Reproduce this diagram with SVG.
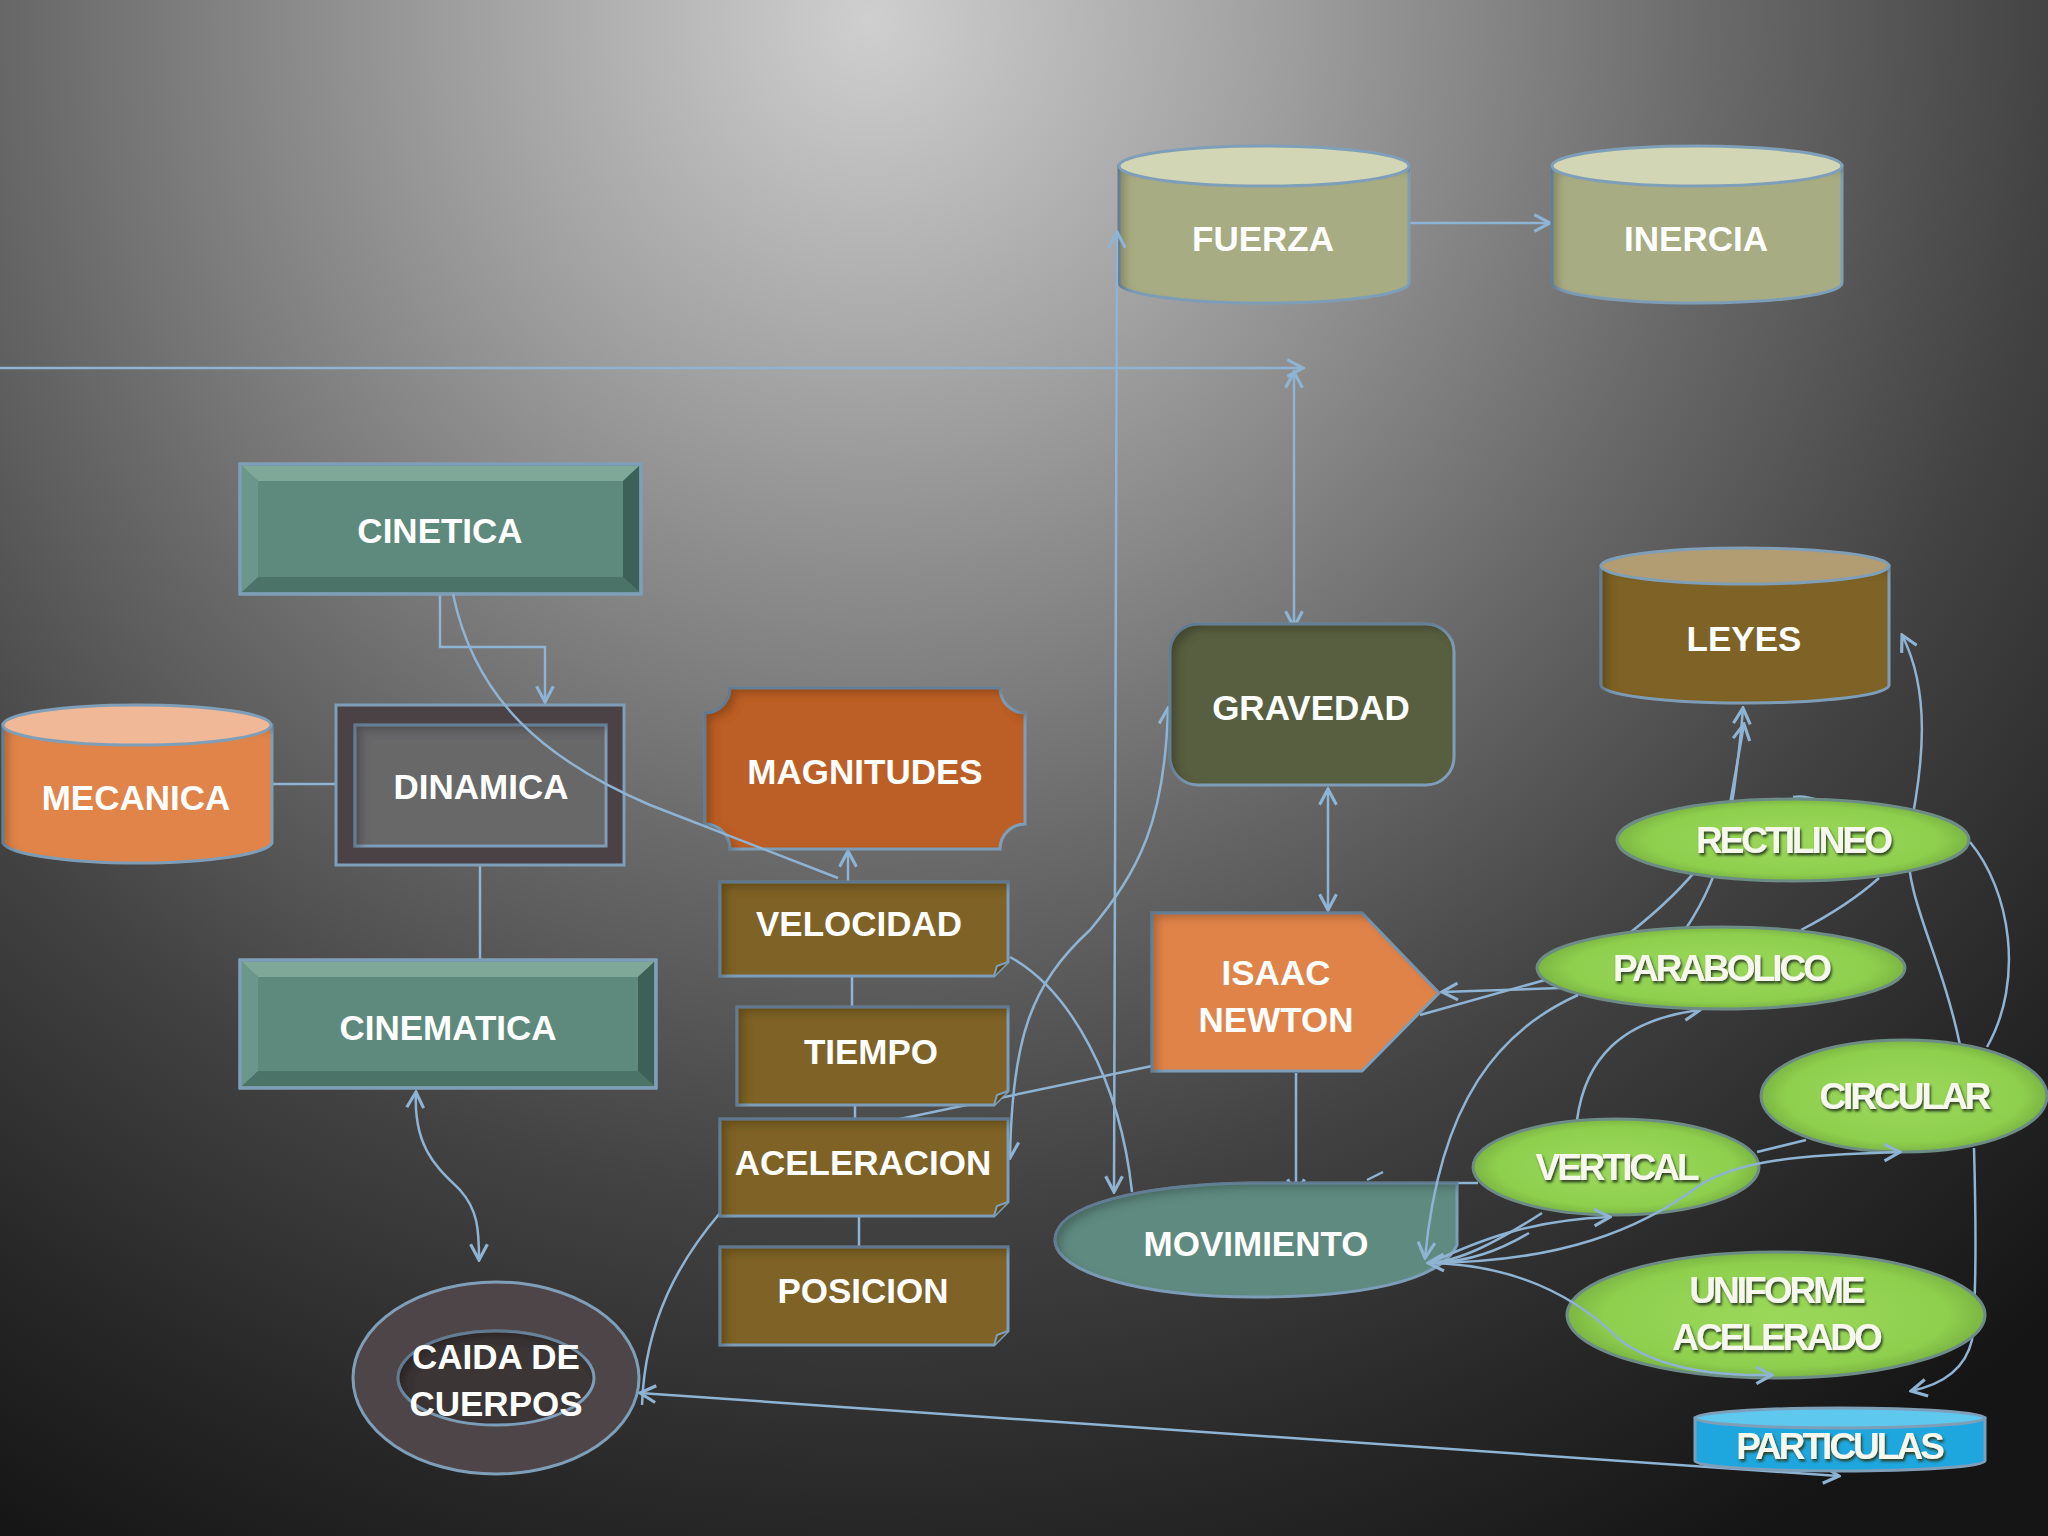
<svg xmlns="http://www.w3.org/2000/svg" width="2048" height="1536" viewBox="0 0 2048 1536">
<defs>
  <radialGradient id="bg" gradientUnits="userSpaceOnUse" cx="870" cy="20" r="1750">
    <stop offset="0" stop-color="#cfcfcf"/>
    <stop offset="0.22" stop-color="#a2a2a2"/>
    <stop offset="0.48" stop-color="#6a6a6a"/>
    <stop offset="0.68" stop-color="#424242"/>
    <stop offset="0.86" stop-color="#272727"/>
    <stop offset="1" stop-color="#151515"/>
  </radialGradient>
  <radialGradient id="green" cx="0.5" cy="0.5" r="0.55">
    <stop offset="0" stop-color="#9ad85a"/>
    <stop offset="0.75" stop-color="#8fcf4e"/>
    <stop offset="1" stop-color="#6fa83c"/>
  </radialGradient>
  <filter id="inset" x="-5%" y="-5%" width="110%" height="110%">
    <feGaussianBlur in="SourceAlpha" stdDeviation="5" result="blur"/>
    <feOffset in="blur" dx="7" dy="6" result="off"/>
    <feComposite in="SourceAlpha" in2="off" operator="arithmetic" k2="1" k3="-1" result="inner"/>
    <feFlood flood-color="#000" flood-opacity="0.45"/>
    <feComposite in2="inner" operator="in" result="shadow"/>
    <feMerge><feMergeNode in="SourceGraphic"/><feMergeNode in="shadow"/></feMerge>
  </filter>
  <filter id="tshadow" x="-10%" y="-20%" width="120%" height="150%">
    <feDropShadow dx="1.5" dy="2.5" stdDeviation="1.2" flood-color="#2a3a1a" flood-opacity="0.9"/>
  </filter>
  <marker id="arr" viewBox="0 0 20 20" refX="18" refY="10" markerWidth="21" markerHeight="21" markerUnits="userSpaceOnUse" orient="auto-start-reverse">
    <path d="M3,2 L18,10 L3,18" fill="none" stroke="#8fb3d3" stroke-width="3"/>
  </marker>
  <style>
    .lbl{font-family:"Liberation Sans",Arial,sans-serif;font-weight:bold;font-size:35px;fill:#ffffff;text-anchor:middle;dominant-baseline:central}
    .glbl{font-family:"Liberation Sans",Arial,sans-serif;font-weight:bold;font-size:37px;fill:#f6f8ee;text-anchor:middle;dominant-baseline:central;letter-spacing:-3px;filter:url(#tshadow)}
    .bd{stroke:#7f9fb9;stroke-width:3}
    .cn{fill:none;stroke:#8fb3d3;stroke-width:2.5}
    .ar{marker-end:url(#arr)}
    .ar2{marker-start:url(#arr);marker-end:url(#arr)}
    .brown{fill:#7e6226}
  </style>
</defs>
<rect width="2048" height="1536" fill="url(#bg)"/>

<g id="connectors-under">
  <path class="cn ar" d="M0,368 H1303"/>
  <path class="cn ar2" d="M1294,372 V627"/>
  <path class="cn ar" d="M1409,223 H1550"/>
  <path class="cn ar2" d="M1328,789 V910"/>
  <path class="cn ar" d="M1296,1073 V1195"/>
  <path class="cn ar" d="M440,594 V647 H545 V702"/>
  <path class="cn" d="M272,784 H336"/>
  <path class="cn" d="M480,865 V960"/>
  <path class="cn ar" d="M848,882 V851"/>
  <path class="cn" d="M852,976 V1007 M855,1105 V1119 M859,1216 V1247"/>
  <path class="cn" d="M1152,1066 L895,1120"/>
  <path class="cn" d="M1010,957 C1070,990 1120,1080 1132,1192"/>
  <path class="cn ar2" d="M1168,708 C1165,820 1140,870 1090,930 C1030,985 1012,1040 1010,1158"/>
  <path class="cn" d="M720,1213 C680,1260 645,1320 642,1405"/>
  <path class="cn ar2" d="M640,1393 L1839,1476"/>
  <path class="cn ar2" d="M416,1092 C413,1150 440,1170 460,1190 C478,1210 479,1230 479,1260"/>
  <path class="cn ar" d="M1560,988 L1442,992"/>
  <path class="cn" d="M1420,1015 L1545,980"/>
  <path class="cn ar" d="M1631,932 C1690,885 1728,840 1734,790 C1738,760 1741,735 1743,708"/>
  <path class="cn ar" d="M1685,930 C1705,900 1718,870 1724,840 C1732,790 1738,760 1744,724"/>
  <path class="cn" d="M1801,930 C1830,915 1860,895 1879,878"/>
  <path class="cn" d="M1970,842 C2010,890 2025,980 1987,1047"/>
  <path class="cn ar" d="M1960,1045 C1940,950 1905,900 1908,840 C1925,760 1930,690 1902,635"/>
  <path class="cn ar" d="M1974,1148 C1976,1220 1976,1300 1972,1340 C1965,1370 1940,1385 1911,1391"/>
  <path class="cn ar" d="M1577,1120 C1585,1060 1620,1020 1700,1010"/>
  <path class="cn" d="M1757,1152 L1806,1140"/>
  <path class="cn" d="M1457,1183 H1478"/>
  <path class="cn" d="M1793,797 Q1805,795 1820,801"/>
</g>

<g id="fuerza">
  <path d="M1119,166 V283 A145,20 0 0 0 1409,283 V166 Z" fill="#a8ac82" class="bd" filter="url(#inset)"/>
  <ellipse cx="1264" cy="166" rx="145" ry="20" fill="#d2d6b4" class="bd"/>
  <text class="lbl" x="1263" y="238">FUERZA</text>
</g>
<g id="inercia">
  <path d="M1552,166 V283 A145,20 0 0 0 1842,283 V166 Z" fill="#a8ac82" class="bd" filter="url(#inset)"/>
  <ellipse cx="1697" cy="166" rx="145" ry="20" fill="#d2d6b4" class="bd"/>
  <text class="lbl" x="1696" y="238">INERCIA</text>
</g>
<g id="leyes">
  <path d="M1601,566 V685 A144,18 0 0 0 1889,685 V566 Z" fill="#7e6226" class="bd" filter="url(#inset)"/>
  <ellipse cx="1745" cy="566" rx="144" ry="18" fill="#b29c72" class="bd"/>
  <text class="lbl" x="1744" y="638">LEYES</text>
</g>
<g id="gravedad">
  <rect x="1170" y="624" width="284" height="161" rx="28" fill="#595e40" class="bd" filter="url(#inset)"/>
  <text class="lbl" x="1311" y="707">GRAVEDAD</text>
</g>
<g id="cinetica">
  <rect x="240" y="464" width="401" height="130" fill="#5e8a7e" class="bd"/>
  <path d="M242,466 H639 L623,481 H258 Z" fill="#80a899"/>
  <path d="M242,466 L258,481 V577 L242,592 Z" fill="#6b978a"/>
  <path d="M639,466 V592 L623,577 V481 Z" fill="#3e6157"/>
  <path d="M242,592 L258,577 H623 L639,592 Z" fill="#4b7367"/>
  <rect x="240" y="464" width="401" height="130" fill="none" class="bd"/>
  <text class="lbl" x="440" y="530">CINETICA</text>
</g>
<g id="cinematica">
  <rect x="240" y="960" width="416" height="128" fill="#5e8a7e" class="bd"/>
  <path d="M242,962 H654 L638,977 H258 Z" fill="#80a899"/>
  <path d="M242,962 L258,977 V1071 L242,1086 Z" fill="#6b978a"/>
  <path d="M654,962 V1086 L638,1071 V977 Z" fill="#3e6157"/>
  <path d="M242,1086 L258,1071 H638 L654,1086 Z" fill="#4b7367"/>
  <rect x="240" y="960" width="416" height="128" fill="none" class="bd"/>
  <text class="lbl" x="448" y="1027">CINEMATICA</text>
</g>
<g id="mecanica">
  <path d="M3,725 V843 A135,22 0 0 0 272,843 V725 Z" fill="#e0844a" class="bd" filter="url(#inset)"/>
  <ellipse cx="137" cy="725" rx="134" ry="20" fill="#f0b896" class="bd"/>
  <text class="lbl" x="136" y="797">MECANICA</text>
</g>
<g id="dinamica">
  <rect x="336" y="705" width="288" height="160" fill="#4a4245" class="bd"/>
  <rect x="355" y="725" width="251" height="121" fill="#676769" class="bd" filter="url(#inset)"/>
  <text class="lbl" x="481" y="786">DINAMICA</text>
</g>
<g id="magnitudes">
  <path d="M730,688 H1000 A25,25 0 0 0 1025,713 V824 A25,25 0 0 0 1000,849 H730 A25,25 0 0 0 705,824 V713 A25,25 0 0 0 730,688 Z" fill="#bc5e26" class="bd" filter="url(#inset)"/>
  <text class="lbl" x="865" y="771">MAGNITUDES</text>
</g>
<g id="velocidad">
  <path d="M720,882 H1008 V962 L994,976 H720 Z" class="brown bd" filter="url(#inset)"/>
  <path d="M994,976 L997,966 L1008,962" fill="#5d4818" stroke="#7f9fb9" stroke-width="2"/>
  <text class="lbl" x="859" y="923">VELOCIDAD</text>
</g>
<g id="tiempo">
  <path d="M737,1007 H1008 V1091 L994,1105 H737 Z" class="brown bd" filter="url(#inset)"/>
  <path d="M994,1105 L997,1095 L1008,1091" fill="#5d4818" stroke="#7f9fb9" stroke-width="2"/>
  <text class="lbl" x="871" y="1051">TIEMPO</text>
</g>
<g id="aceleracion">
  <path d="M720,1119 H1008 V1202 L994,1216 H720 Z" class="brown bd" filter="url(#inset)"/>
  <path d="M994,1216 L997,1206 L1008,1202" fill="#5d4818" stroke="#7f9fb9" stroke-width="2"/>
  <text class="lbl" x="863" y="1162">ACELERACION</text>
</g>
<g id="posicion">
  <path d="M720,1247 H1008 V1331 L994,1345 H720 Z" class="brown bd" filter="url(#inset)"/>
  <path d="M994,1345 L997,1335 L1008,1331" fill="#5d4818" stroke="#7f9fb9" stroke-width="2"/>
  <text class="lbl" x="863" y="1290">POSICION</text>
</g>
<g id="caida-de-cuerpos">
  <ellipse cx="496" cy="1378" rx="143" ry="96" fill="#4e4548" class="bd"/>
  <ellipse cx="496" cy="1378" rx="98" ry="47" fill="#3a3436" class="bd" filter="url(#inset)"/>
  <text class="lbl" x="496" y="1356">CAIDA DE</text>
  <text class="lbl" x="496" y="1403">CUERPOS</text>
</g>
<g id="isaac-newton">
  <path d="M1152,913 H1362 L1439,993 L1362,1071 H1152 Z" fill="#e0834a" class="bd" filter="url(#inset)"/>
  <text class="lbl" x="1276" y="972">ISAAC</text>
  <text class="lbl" x="1276" y="1019">NEWTON</text>
</g>
<g id="movimiento">
  <path d="M1457,1183 V1245 C1440,1282 1360,1297 1255,1297 C1140,1297 1055,1272 1055,1240 C1055,1205 1140,1185 1250,1183 Z" fill="#5e8a80" class="bd" filter="url(#inset)"/>
  <text class="lbl" x="1256" y="1243">MOVIMIENTO</text>
</g>
<g id="rectilineo">
  <ellipse cx="1793" cy="840" rx="176" ry="41" fill="url(#green)" stroke="#6d8c86" stroke-width="3"/>
  <text class="glbl" x="1793" y="840">RECTILINEO</text>
</g>
<g id="parabolico">
  <ellipse cx="1721" cy="968" rx="184" ry="41" fill="url(#green)" stroke="#6d8c86" stroke-width="3"/>
  <text class="glbl" x="1721" y="968">PARABOLICO</text>
</g>
<g id="circular">
  <ellipse cx="1904" cy="1096" rx="143" ry="56" fill="url(#green)" stroke="#6d8c86" stroke-width="3"/>
  <text class="glbl" x="1904" y="1096">CIRCULAR</text>
</g>
<g id="vertical">
  <ellipse cx="1616" cy="1167" rx="143" ry="48" fill="url(#green)" stroke="#6d8c86" stroke-width="3"/>
  <text class="glbl" x="1616" y="1167">VERTICAL</text>
</g>
<g id="uniforme-acelerado">
  <ellipse cx="1776" cy="1315" rx="209" ry="63" fill="url(#green)" stroke="#6d8c86" stroke-width="3"/>
  <text class="glbl" x="1776" y="1290">UNIFORME</text>
  <text class="glbl" x="1776" y="1337">ACELERADO</text>
</g>
<g id="particulas">
  <path d="M1695,1418 V1461 A145,10 0 0 0 1985,1461 V1418 Z" fill="#1ea6de" class="bd"/>
  <ellipse cx="1840" cy="1418" rx="145" ry="10" fill="#5ec8ee" class="bd"/>
  <text class="glbl" x="1839" y="1446">PARTICULAS</text>
</g>

<g id="connectors-over">
  <path class="cn ar2" d="M1117,232 L1114,1192"/>
  <path class="cn" d="M453,594 C475,700 545,760 650,805 L838,878"/>
  <path class="cn ar" d="M1578,995 C1500,1030 1440,1100 1425,1258"/>
  <path class="cn ar" d="M1542,1213 C1500,1240 1460,1262 1428,1263"/>
  <path class="cn" d="M1529,1233 C1500,1250 1470,1262 1430,1263"/>
  <path class="cn ar" d="M1430,1263 C1480,1240 1530,1220 1610,1217"/>
  <path class="cn" d="M1367,1180 L1383,1172"/>
  <path class="cn ar" d="M1430,1263 C1560,1262 1640,1230 1700,1185 C1740,1160 1800,1155 1900,1152"/>
  <path class="cn ar" d="M1430,1263 C1520,1265 1580,1300 1620,1340 C1660,1370 1720,1376 1772,1375"/>
</g>
</svg>
